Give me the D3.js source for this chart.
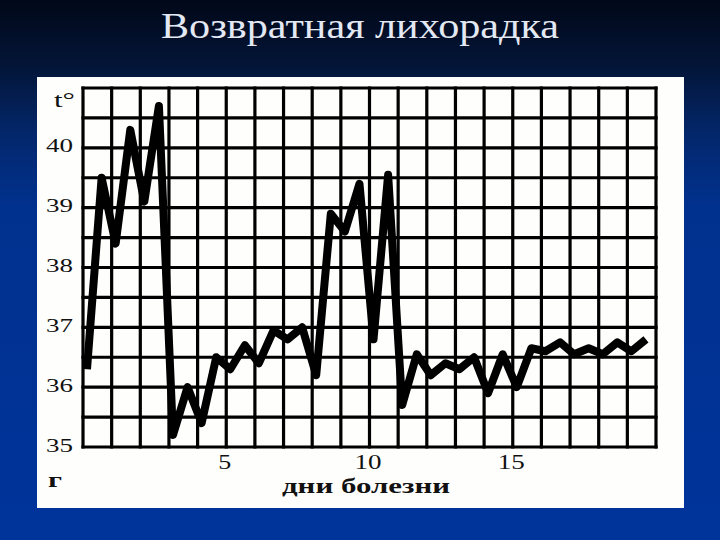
<!DOCTYPE html>
<html>
<head>
<meta charset="utf-8">
<script src="https://cdn.jsdelivr.net/npm/d3@7"></script>
<style>
  html, body { margin: 0; padding: 0; background: #001a5a; }
  svg { display: block; }
</style>
</head>
<body>
<script>
// ---- data ----
const title = "Возвратная лихорадка";
const days = d3.range(1, 21);            // дни болезни 1..20
const morning = [36.3, 38.4, 39.1, 35.2, 35.4, 36.3, 36.4, 36.8, 36.2, 38.6,
                 36.8, 35.7, 36.2, 36.3, 35.9, 36.0, 36.6, 36.55, 36.55, 36.6];
const evening = [39.5, 40.3, 40.7, 36.0, 36.5, 36.7, 36.95, 37.0, 38.9, 39.4,
                 39.55, 36.55, 36.4, 36.5, 36.55, 36.65, 36.75, 36.65, 36.75, 36.8];
const yTicks = [35, 36, 37, 38, 39, 40];
const xTicks = [5, 10, 15];
const yUnit = "t°";
const yUnitBottom = "г";
const xTitle = "дни болезни";

// ---- layout ----
const W = 720, H = 540;
const svg = d3.select("body").append("svg").attr("width", W).attr("height", H);

const defs = svg.append("defs");
const grad = defs.append("linearGradient").attr("id", "bg")
  .attr("x1", 0).attr("y1", 0).attr("x2", 0).attr("y2", 1);
grad.append("stop").attr("offset", "0").attr("stop-color", "#010818");
grad.append("stop").attr("offset", "0.12").attr("stop-color", "#031537");
grad.append("stop").attr("offset", "0.25").attr("stop-color", "#03276c");
grad.append("stop").attr("offset", "0.38").attr("stop-color", "#01318e");
grad.append("stop").attr("offset", "1").attr("stop-color", "#00349b");
svg.append("rect").attr("width", W).attr("height", H).attr("fill", "url(#bg)");

// title
svg.append("text")
  .attr("x", 360).attr("y", 38)
  .attr("text-anchor", "middle")
  .attr("font-family", "'Liberation Serif', 'DejaVu Serif', serif")
  .attr("font-size", 36)
  .attr("fill", "#e3e8f2")
  .attr("textLength", 398).attr("lengthAdjust", "spacingAndGlyphs")
  .text(title);

// white panel
svg.append("rect").attr("x", 37).attr("y", 77).attr("width", 647).attr("height", 431)
  .attr("fill", "#fefefc");

// scales
const x = d3.scaleLinear().domain([0, 20]).range([83, 656]);
const y = d3.scaleLinear().domain([35, 41]).range([447, 88]);

// grid
const grid = svg.append("g").attr("stroke", "#000").attr("stroke-width", 3.2).attr("stroke-linecap", "square");
grid.selectAll("line.v").data(d3.range(0, 21)).join("line").attr("class", "v")
  .attr("x1", d => x(d)).attr("x2", d => x(d))
  .attr("y1", y(41)).attr("y2", y(35));
grid.selectAll("line.h").data(d3.range(35, 41.01, 0.5)).join("line").attr("class", "h")
  .attr("x1", x(0)).attr("x2", x(20))
  .attr("y1", d => y(d)).attr("y2", d => y(d));

// temperature curve (morning / evening readings)
const pts = [];
days.forEach((d, i) => {
  pts.push({ t: d - 1 + 0.14, v: morning[i] });
  pts.push({ t: d - 1 + 0.65, v: evening[i] });
});
const line = d3.line().x(d => x(d.t)).y(d => y(d.v));
svg.append("path").datum(pts)
  .attr("d", line)
  .attr("fill", "none")
  .attr("stroke", "#000")
  .attr("stroke-width", 8)
  .attr("stroke-linejoin", "round")
  .attr("stroke-linecap", "butt");

// y axis labels
const font = "'Liberation Serif', 'Times New Roman', serif";
const yAxis = d3.axisLeft(y).tickValues(yTicks).tickSize(0).tickPadding(10).tickFormat(d3.format("d"));
const gy = svg.append("g").attr("transform", `translate(${x(0)},-2)`).call(yAxis);
gy.select(".domain").remove();
gy.selectAll("text")
  .attr("font-family", font).attr("font-size", 19).attr("fill", "#111")
  .attr("textLength", 27).attr("lengthAdjust", "spacingAndGlyphs");

svg.append("text").attr("x", 75).attr("y", 107).attr("text-anchor", "end")
  .attr("font-family", font).attr("font-size", 20).attr("fill", "#111")
  .attr("textLength", 21).attr("lengthAdjust", "spacingAndGlyphs")
  .text(yUnit);
svg.append("text").attr("x", 48).attr("y", 487)
  .attr("font-family", font).attr("font-size", 20).attr("font-weight", "bold").attr("fill", "#111")
  .attr("textLength", 14).attr("lengthAdjust", "spacingAndGlyphs")
  .text(yUnitBottom);

// x axis labels
const xAxis = d3.axisBottom(x).tickValues(xTicks).tickSize(0).tickPadding(7).tickFormat(d3.format("d"));
const gx = svg.append("g").attr("transform", `translate(-2,${y(35)})`).call(xAxis);
gx.select(".domain").remove();
gx.selectAll("text")
  .attr("font-family", font).attr("font-size", 21).attr("fill", "#111")
  .attr("textLength", d => d < 10 ? 13 : 27).attr("lengthAdjust", "spacingAndGlyphs");

svg.append("text").attr("x", 366).attr("y", 493).attr("text-anchor", "middle")
  .attr("font-family", font).attr("font-size", 20).attr("font-weight", "bold").attr("fill", "#111")
  .attr("textLength", 168).attr("lengthAdjust", "spacingAndGlyphs")
  .text(xTitle);
</script>
</body>
</html>
